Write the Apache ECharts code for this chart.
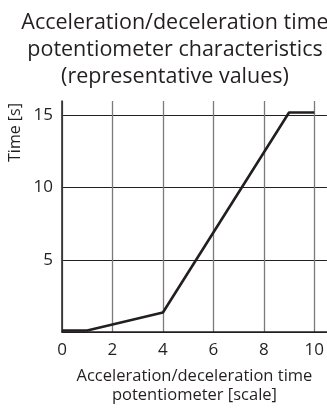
<!DOCTYPE html>
<html>
<head>
<meta charset="utf-8">
<script src="https://cdn.jsdelivr.net/npm/echarts@6/dist/echarts.min.js"></script>
<style>
  html, body { margin: 0; padding: 0; background: #fff; }
  #chart { width: 327px; height: 410px; }
</style>
</head>
<body>
<div id="chart"></div>
<script>
// potentiometer scale -> time [s]
var scaleValues = [0, 1, 4, 9, 10]
var timeValues = [0.1, 0.1, 1.35, 15.2, 15.2]
var xTicks = [0, 2, 4, 6, 8, 10]
var yTicks = [0, 5, 10, 15]

var font = 'Open Sans'

var chart = echarts.init(document.getElementById('chart'))

chart.setOption({
  animation: false,
  title: {
    text: 'Acceleration/deceleration time\npotentiometer characteristics\n(representative values)',
    left: 170,
    top: 4,
    textAlign: 'center',
    textStyle: {
      fontFamily: font,
      fontSize: 21.5,
      fontWeight: 'normal',
      color: '#231f20',
      lineHeight: 27
    }
  },
  grid: {
    left: 62,
    top: 101,
    width: 268,
    height: 234.7
  },
  xAxis: {
    type: 'value',
    min: 0,
    max: 10.5,
    interval: 2,
    name: 'Acceleration/deceleration time\npotentiometer [scale]',
    nameLocation: 'middle',
    nameGap: 35,
    nameTextStyle: {
      fontFamily: font,
      fontSize: 16.5,
      color: '#231f20',
      lineHeight: 19
    },
    axisLine: { lineStyle: { color: '#231f20', width: 1.5 } },
    axisTick: { show: false },
    axisLabel: {
      margin: 10,
      fontFamily: font,
      fontSize: 17,
      color: '#231f20',
      showMaxLabel: false,
      formatter: function (v) {
        return xTicks.indexOf(v) >= 0 ? String(v) : ''
      }
    },
    splitLine: {
      show: true,
      showMaxLine: false,
      lineStyle: { color: '#7a7a7a', width: 1.3 }
    }
  },
  yAxis: {
    type: 'value',
    min: 0,
    max: 16,
    interval: 5,
    axisLine: { show: true, lineStyle: { color: '#231f20', width: 1.5 } },
    axisTick: { show: false },
    axisLabel: {
      margin: 9,
      fontFamily: font,
      fontSize: 17,
      color: '#231f20',
      showMaxLabel: false,
      formatter: function (v) {
        return yTicks.indexOf(v) >= 0 && v !== 0 ? String(v) : ''
      }
    },
    splitLine: {
      show: true,
      showMaxLine: false,
      lineStyle: { color: '#231f20', width: 1 }
    }
  },
  graphic: [
    {
      type: 'text',
      x: 15,
      y: 132.5,
      rotation: Math.PI / 2,
      style: {
        text: 'Time [s]',
        fontFamily: font,
        fontSize: 16,
        fill: '#231f20',
        align: 'center',
        verticalAlign: 'middle'
      }
    }
  ],
  series: [
    {
      type: 'line',
      data: scaleValues.map(function (x, i) { return [x, timeValues[i]] }),
      symbol: 'none',
      lineStyle: { color: '#231f20', width: 2.6 }
    }
  ]
})
</script>
</body>
</html>
